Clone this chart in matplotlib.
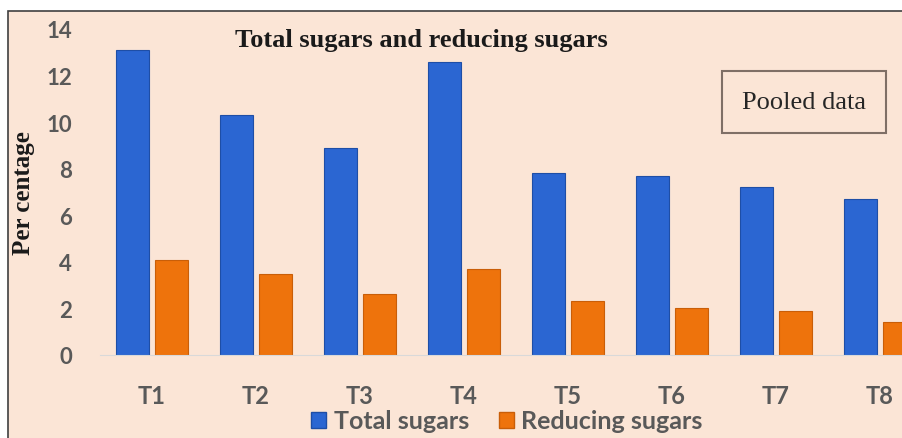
import matplotlib.pyplot as plt
from matplotlib.patches import Rectangle, Patch
import numpy as np

treatments = ['T1', 'T2', 'T3', 'T4', 'T5', 'T6', 'T7', 'T8']
total_sugars = [13.1, 10.3, 8.9, 12.6, 7.8, 7.7, 7.2, 6.7]
reducing_sugars = [4.1, 3.5, 2.6, 3.7, 2.3, 2.0, 1.9, 1.4]

BG = '#FBE5D6'
BLUE = '#2B66D2'
ORANGE = '#EE730C'
GREY = '#595959'

fig = plt.figure(figsize=(9.03, 4.39), dpi=100)
fig.patch.set_facecolor('white')

# peach panel with a thin dark border (cut off at right/bottom)
panel = Rectangle((8 / 903, -0.02), 1.0, (439 - 12) / 439 + 0.02,
                  transform=fig.transFigure, facecolor=BG,
                  edgecolor='#404040', linewidth=1.2, zorder=-5)
fig.patches.append(panel)

ax = fig.add_axes([100 / 903, 83 / 439, 832 / 903, 326 / 439])
ax.set_facecolor('none')

x = np.arange(len(treatments))
w = 0.32
ax.bar(x - 0.19, total_sugars, w, color=BLUE, edgecolor='#1E4EA6', linewidth=0.8)
ax.bar(x + 0.19, reducing_sugars, w, color=ORANGE, edgecolor='#C95E08', linewidth=0.8)

ax.set_xlim(-0.5, 7.5)
ax.set_ylim(0, 14)
ax.set_yticks(range(0, 15, 2))
ax.set_xticks(x)
ax.set_xticklabels(treatments)
ax.tick_params(axis='both', length=0, labelcolor=GREY)
ax.tick_params(axis='x', pad=21, labelsize=17)
ax.tick_params(axis='y', pad=20, labelsize=16)
for lbl in ax.get_xticklabels() + ax.get_yticklabels():
    lbl.set_fontfamily('Lato')
    lbl.set_fontweight('bold')

for s in ['top', 'right', 'left']:
    ax.spines[s].set_visible(False)
ax.spines['bottom'].set_color('#D9D9D9')

ax.set_ylabel('Per centage', fontfamily='Liberation Serif', fontweight='bold',
              fontsize=18, color='#1a1a1a')
ax.yaxis.set_label_coords(-65 / 832, 0.5)

fig.text(421 / 903, 1 - 40 / 439, 'Total sugars and reducing sugars',
         fontfamily='Liberation Serif', fontweight='bold', fontsize=19,
         ha='center', va='center', color='#1a1a1a')

fig.text(804 / 903, 1 - 103 / 439, 'Pooled data', fontfamily='Liberation Serif',
         fontsize=19, ha='center', va='center', color='#262626',
         bbox=dict(boxstyle='square,pad=0.75', facecolor=BG,
                   edgecolor='#7F6F66', linewidth=1.5))

handles = [Patch(facecolor=BLUE, edgecolor='#1E4EA6', label='Total sugars'),
           Patch(facecolor=ORANGE, edgecolor='#C95E08', label='Reducing sugars')]
leg = fig.legend(handles=handles, loc='center', bbox_to_anchor=(507 / 903, 1 - 422 / 439),
                 ncol=2, frameon=False, handlelength=0.6, handleheight=0.6,
                 handletextpad=0.3, columnspacing=1.2,
                 prop={'family': 'Lato', 'weight': 'bold', 'size': 18})
for t in leg.get_texts():
    t.set_color(GREY)

fig.savefig('out.png', dpi=100, facecolor='white')
